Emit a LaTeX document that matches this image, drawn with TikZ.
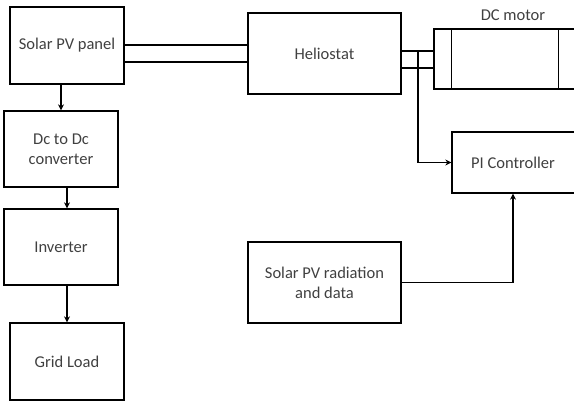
\documentclass[tikz,border=0pt]{standalone}
\usepackage{fontspec}
\setmainfont{Carlito}
\usetikzlibrary{
    arrows.meta,
    positioning,
    calc
}

\begin{document}
\begin{tikzpicture}[
    x=1pt, y=-1pt,
    font=\fontsize{16.5}{20}\selectfont,
    block/.style={rectangle, minimum width=114pt, minimum height=77pt, inner sep=0pt,
                  text centered, align=center, draw=black, line width=1.3pt, text=black!75},
    wideblock/.style={block, minimum width=153pt, minimum height=81pt},
    arrow/.style={-{Stealth[length=6pt,width=6pt]}, line width=1.3pt},
    wire/.style={line width=1.3pt}
]
    \clip (0,0) rectangle (574,401);

    % Power path
    \node (panel) [block] at (67,45.5) {Solar PV panel};
    \node (dcdc) [block, minimum height=76pt] at (61,149) {Dc to Dc\\converter};
    \node (inverter) [block, minimum height=76pt] at (61,247) {Inverter};
    \node (grid) [block] at (67,361.5) {Grid Load};

    % Tracking part
    \node (heliostat) [wideblock] at (324.5,53.5) {Heliostat};
    \node (motor) [block, minimum width=150pt, minimum height=60pt] at (509,59) {};
    \node (motorlabel) [text=black!75] at (513,15) {DC motor};
    \node (pi) [block, minimum width=132pt, minimum height=61pt] at (518,162.5) {};
    \node (pilabel) [text=black!75] at (513,162.5) {PI Controller};
    \node (radiation) [wideblock] at (324.5,282.5) {Solar PV radiation\\and data};

    % Motor end caps
    \draw [wire] ([xshift=18pt]motor.north west) -- ([xshift=18pt]motor.south west);
    \draw [wire] ([xshift=125pt]motor.north west) -- ([xshift=125pt]motor.south west);

    % Connections
    \draw [arrow] (dcdc.north |- panel.south) -- (dcdc.north);
    \draw [arrow] (grid.north |- dcdc.south) -- (grid.north |- inverter.north);
    \draw [arrow] (inverter.south -| grid.north) -- (grid.north);
    \draw [wire] (panel.east |- 0,45) -- (heliostat.west |- 0,45);
    \draw [wire] (panel.east |- 0,62) -- (heliostat.west |- 0,62);

    % Shaft to motor
    \coordinate (shafttop) at (418,51);
    \coordinate (tap) at (418,68);
    \draw [wire] (heliostat.east |- shafttop) -- (motor.west |- shafttop);
    \draw [wire] (heliostat.east |- tap) -- (motor.west |- tap);
    \draw [wire] (shafttop) -- (tap);
    \draw [arrow] (tap) |- (pi.west);
    \draw [arrow] (radiation.east) -| (pilabel.south |- pi.south);

\end{tikzpicture}
\end{document}
